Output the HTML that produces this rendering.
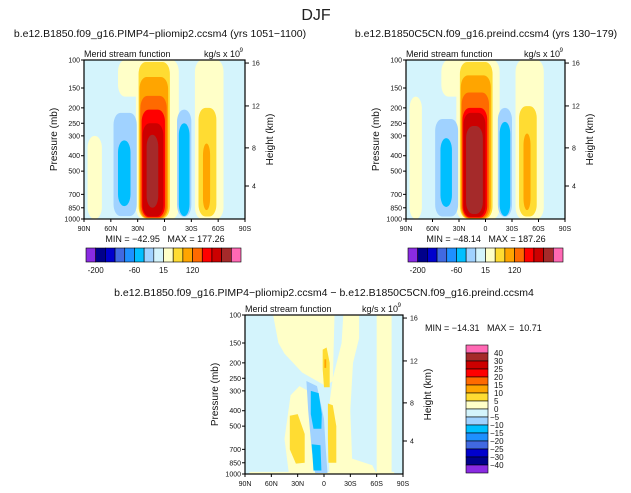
<!DOCTYPE html>
<html><head><meta charset="utf-8"><style>
html,body{margin:0;padding:0;background:#fff;}
svg{display:block;font-family:"Liberation Sans",sans-serif;}
text{white-space:pre;}
</style></head><body>
<svg id="fig" width="631" height="493" viewBox="0 0 631 493" xmlns="http://www.w3.org/2000/svg">
<text x="316" y="20" font-size="16" text-anchor="middle" fill="#222">DJF</text>
</svg>
<script>
// colour table (16 fill levels)
const fillColors=["#8a2be2","#00008b","#0000cd","#4169e1","#1e90ff","#00bfff","#a0d2ff","#d4f4fc","#ffffc8","#ffdc32","#ffa500","#ff6a00","#ff0000","#cc0000","#a52a2a","#ff69b4"];
const hLabels=["-200","-60","15","120"];
const hLabelIdx=[1,5,8,11];
const vLabels=["40","30","25","20","15","10","5","0","\u22125","\u221210","\u221215","\u221220","\u221225","\u221230","\u221240"];
const latTicks=[90,60,30,0,-30,-60,-90];
const latLabels=["90N","60N","30N","0","30S","60S","90S"];
const pTicks=[100,150,200,250,300,400,500,700,850,1000];
const kmTicks=[4,8,12,16];
const kmPress=[620,357,194.5,104.5];
// blobs: [latNorth, latSouth, pTop, pBottom, colorIndex]
const blobsA=[[52,-14,100,170,8],[32,-16,100,1000,8],[86,70,300,1000,8],[-34,-66,100,1000,8],
[57,31,215,960,6],[52,38,320,830,5],[-14,-30,205,970,6],[-16,-28,250,960,5],
[-38,-58,200,965,9],[-43,-51,335,880,10],
[29,-6,103,990,9],[28,-4,128,988,10],[27,-2.5,168,985,11],[25.5,-0.5,205,975,12],[24.5,1.3,250,965,13],[20,7,295,850,14]];
const blobsB=[[50,-14,100,170,8],[33,-16,100,1000,8],[86,72,170,1000,8],[-34,-66,100,1000,8],
[57,31,235,965,6],[51,38,310,840,5],[-14,-30,200,970,6],[-16,-28,245,960,5],
[-38,-58,195,965,9],[-43,-51,290,880,10],
[29,-8,103,992,9],[28,-6,125,990,10],[27,-4,160,987,11],[26,-2,200,980,12],[25,0,215,970,13],[22,3,260,930,14]];
// difference panel polygons: list of [lat,p] points + colour index
const polysC=[
 {c:8,pts:[[58,100],[-12,100],[-10,260],[-2,280],[8,260],[25,230],[45,175],[52,150]]},
 {c:8,pts:[[40,1000],[45,600],[38,320],[28,280],[18,300],[13,600],[12,1000]]},
 {c:8,pts:[[-6,1000],[-5,400],[-10,250],[-20,150],[-22,100],[-40,100],[-40,140],[-33,200],[-30,400],[-32,800],[-55,880],[-60,1000]]},
 {c:8,pts:[[-60,100],[-77,100],[-77,1000],[-60,1000]]},
 {c:8,pts:[[85,1000],[85,970],[-80,970],[-80,1000]]},
 {c:6,pts:[[20,260],[8,280],[0,450],[-2,700],[-4,985],[10,985],[14,700],[18,400]]},
 {c:5,pts:[[15,300],[6,310],[2.5,420],[3,520],[12,520],[15,420]]},
 {c:5,pts:[[14,650],[4,660],[3,950],[12,950]]},
 {c:9,pts:[[39,430],[30,420],[22,560],[22,850],[32,860],[39,700]]},
 {c:9,pts:[[-4.5,360],[-10,370],[-14,500],[-14,850],[-5,850],[-4.5,600]]},
 {c:9,pts:[[1.5,165],[-3,160],[-6.5,200],[-6.5,285],[0,285],[1.5,220]]},
 {c:10,pts:[[-0.5,190],[-2.5,190],[-2.5,215],[-0.5,215]]}
];
const svg=document.getElementById('fig');
const NS="http://www.w3.org/2000/svg";
function mk(tag,attrs,parent){const e=document.createElementNS(NS,tag);for(const k in attrs)e.setAttribute(k,attrs[k]);(parent||svg).appendChild(e);return e;}
function txt(s,x,y,size,anchor,parent,name){const t=mk('text',{x:x,y:y,'font-size':size,'text-anchor':anchor||'start',fill:'#111'},parent);t.textContent=s;


return t;}

function panel(id,x0,y0,w,h,title,titleX,bg){
 const g=mk('g',{});
 
 
 const xs=lat=>x0+(90-lat)/180*w;
 const ys=p=>y0+Math.log10(p/100)*h;
 const cp=mk('clipPath',{id:'clip-'+id},g);mk('rect',{x:x0,y:y0,width:w,height:h},cp);
 const field=mk('g',{'clip-path':'url(#clip-'+id+')'},g);
 
 
 const r=mk('rect',{x:x0,y:y0,width:w,height:h,fill:fillColors[bg]},field);
 
 
 return {g,field,xs,ys,x0,y0,w,h,title,titleX};
}
function axes(P){
 const {g,xs,ys,x0,y0,w,h}=P;
 const f=mk('rect',{x:x0,y:y0,width:w,height:h,fill:'none',stroke:'#000','stroke-width':1.2},g);
 
 
 latTicks.forEach((l,i)=>{const x=xs(l);mk('line',{x1:x,x2:x,y1:y0+h,y2:y0+h+3,stroke:'#000'},g);
  txt(latLabels[i],x,y0+h+12,7,'middle',g,'x-tick-label');});
 pTicks.forEach(p=>{const y=ys(p);mk('line',{x1:x0-3,x2:x0,y1:y,y2:y,stroke:'#000'},g);
  txt(String(p),x0-4,y+2.5,7,'end',g,'y-tick-label');});
 kmTicks.forEach((k,i)=>{const y=ys(kmPress[i]);mk('line',{x1:x0+w,x2:x0+w+4,y1:y,y2:y,stroke:'#000'},g);
  txt(String(k),x0+w+7,y+2.5,7,'start',g,'height-tick-label');});
 const yl=txt('Pressure (mb)',0,0,10,'middle',g,'y-axis-title');yl.setAttribute('transform',`translate(${x0-27},${y0+h/2}) rotate(-90)`);
 const hl=txt('Height (km)',0,0,10,'middle',g,'right-axis-title');hl.setAttribute('transform',`translate(${x0+w+28},${y0+h/2}) rotate(-90)`);
 txt('Merid stream function',x0,y0-3,9,'start',g,'plot-left-string');
 txt('kg/s x 10',x0+w-5,y0-3,9,'end',g,'plot-units');
 txt('9',x0+w-2,y0-8,6,'end',g,'units-exponent');
 if(P.title)txt(P.title,P.titleX,37,10.5,'middle',svg,'panel-title');
}
function drawBlobs(P,blobs){
 blobs.forEach(b=>{const x1=P.xs(b[0]),x2=P.xs(b[1]),y1=P.ys(b[2]),y2=P.ys(b[3]);
  const rx=Math.min((x2-x1)/2,7);
  const e=mk('rect',{x:x1,y:y1,width:x2-x1,height:y2-y1,rx:rx,ry:Math.min(12,(y2-y1)/2),fill:fillColors[b[4]]},P.field);
  
  });
}
function drawPolys(P,polys){
 polys.forEach(o=>{const d=o.pts.map((q,i)=>(i?'L':'M')+P.xs(q[0]).toFixed(1)+','+P.ys(q[1]).toFixed(1)).join('')+'Z';
  const e=mk('path',{d:d,fill:fillColors[o.c],'stroke-linejoin':'round'},P.field);
  
  });
}
function hBar(x0,y0,w,h){
 const g=mk('g',{});
 
 
 const bw=w/fillColors.length;
 fillColors.forEach((c,i)=>{const r=mk('rect',{x:x0+i*bw,y:y0,width:bw,height:h,fill:c,stroke:'#000','stroke-width':0.6},g);
  
  });
 hLabels.forEach((s,i)=>txt(s,x0+hLabelIdx[i]*bw,y0+h+11,8,'middle',g,'colorbar-label'));
}
function vBar(x0,y0,w,h){
 const g=mk('g',{});
 
 
 const bh=h/fillColors.length;
 fillColors.slice().reverse().forEach((c,i)=>{const r=mk('rect',{x:x0,y:y0+i*bh,width:w,height:bh,fill:c,stroke:'#000','stroke-width':0.6},g);
  
  });
 vLabels.forEach((s,i)=>txt(s,x0+w+(s[0]=='\u2212'?2:6),y0+(i+1)*bh+3,8,'start',g,'colorbar-label'));
}

const A=panel('panel-pimp4',84,60,161,159,'b.e12.B1850.f09_g16.PIMP4\u2212pliomip2.ccsm4 (yrs 1051\u22121100)',160,7);
drawBlobs(A,blobsA);axes(A);
txt('MIN = \u221242.95   MAX = 177.26',165,242,9,'middle',svg,'minmax-left');
hBar(86,248,155,14);

const B=panel('panel-preind',406,60,159,159,'b.e12.B1850C5CN.f09_g16.preind.ccsm4 (yrs 130\u2212179)',486,7);
drawBlobs(B,blobsB);axes(B);
txt('MIN = \u221248.14   MAX = 187.26',486,242,9,'middle',svg,'minmax-right');
hBar(408,248,155,14);

const C=panel('panel-difference',245,315,158,159,'',324,7);
drawPolys(C,polysC);axes(C);
txt('b.e12.B1850.f09_g16.PIMP4\u2212pliomip2.ccsm4 \u2212 b.e12.B1850C5CN.f09_g16.preind.ccsm4',324,296,10.5,'middle',svg,'difference-title');
txt('MIN = \u221214.31   MAX =  10.71',425,331,9,'start',svg,'minmax-difference');
vBar(466,345,22,128);
</script>
</body></html>
